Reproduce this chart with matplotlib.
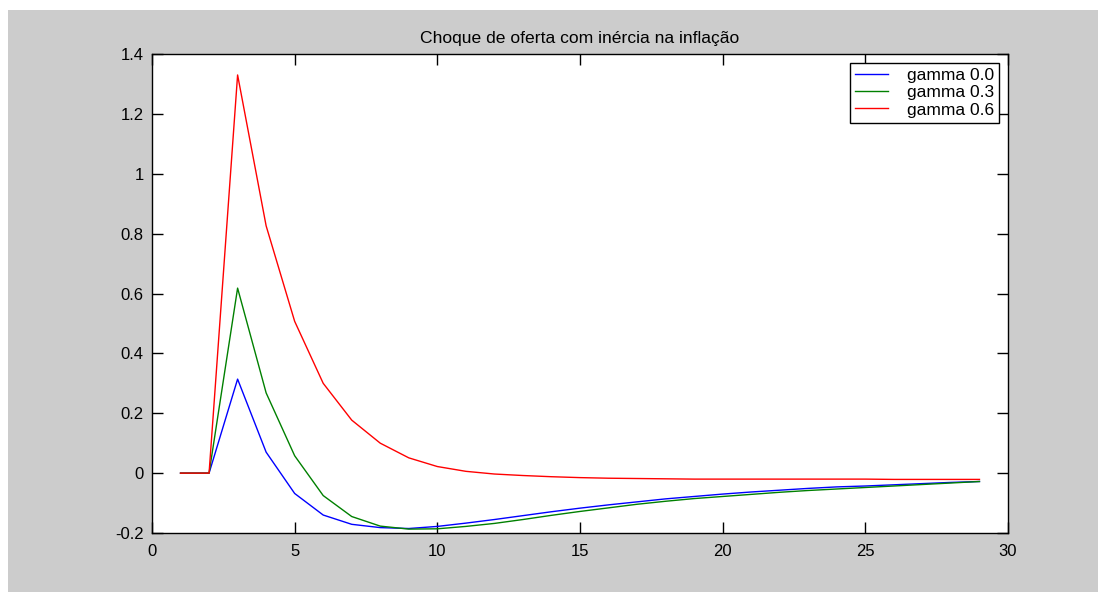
import numpy as np
import matplotlib.pyplot as plt
from matplotlib.patches import Rectangle

# periods
t = list(range(1, 30))

# inflation response for each gamma
gamma_00 = [0, 0, 0.314, 0.070, -0.068, -0.140, -0.171, -0.182, -0.185, -0.178,
            -0.167, -0.155, -0.142, -0.129, -0.117, -0.106, -0.096, -0.086, -0.078, -0.070,
            -0.063, -0.057, -0.051, -0.046, -0.043, -0.039, -0.035, -0.031, -0.028]
gamma_03 = [0, 0, 0.618, 0.268, 0.058, -0.075, -0.145, -0.177, -0.187, -0.186,
            -0.178, -0.168, -0.155, -0.141, -0.128, -0.116, -0.104, -0.094, -0.085, -0.078,
            -0.071, -0.064, -0.058, -0.053, -0.048, -0.043, -0.038, -0.033, -0.028]
gamma_06 = [0, 0, 1.33, 0.826, 0.507, 0.300, 0.177, 0.100, 0.051, 0.022,
            0.006, -0.003, -0.008, -0.012, -0.015, -0.017, -0.018, -0.019, -0.020, -0.020,
            -0.020, -0.020, -0.020, -0.020, -0.020, -0.021, -0.021, -0.021, -0.021]

labels = ['gamma 0.0', 'gamma 0.3', 'gamma 0.6']
colors = ['#0000ff', '#008000', '#ff0000']

plt.rcParams['font.family'] = ['Liberation Sans', 'DejaVu Sans']

fig = plt.figure(figsize=(10.98, 5.92), dpi=100, facecolor='white')
# grey MATLAB-like window background (white strip top and left)
fig.patches.append(Rectangle((8 / 1098, 0), 1, 1 - 10 / 592, transform=fig.transFigure,
                             facecolor='#cccccc', edgecolor='none', zorder=-10))

ax = fig.add_axes([152 / 1098, 59 / 592, 856 / 1098, 479 / 592])
ax.set_facecolor('white')

for y, lab, c in zip([gamma_00, gamma_03, gamma_06], labels, colors):
    ax.plot(t, y, color=c, lw=1.0, label=lab)

ax.set_xlim(0, 30)
ax.set_ylim(-0.2, 1.4)
ax.set_xticks(np.arange(0, 31, 5))
ax.set_yticks(np.arange(-0.2, 1.41, 0.2))
ax.set_yticklabels(['-0.2', '0', '0.2', '0.4', '0.6', '0.8', '1', '1.2', '1.4'])
ax.tick_params(direction='in', length=8, width=1, top=True, right=True,
               labelsize=12, colors='black', pad=6)
ax.tick_params(axis='x', pad=8)
for s in ax.spines.values():
    s.set_color('black')
    s.set_linewidth(1.0)

ax.set_title('Choque de oferta com inércia na inflação', fontsize=12.6, pad=8)

leg = ax.legend(loc='upper right', fontsize=12.5, frameon=True, fancybox=False,
                framealpha=1, edgecolor='black', borderpad=0.3, labelspacing=0.12,
                handlelength=1.9, handletextpad=1.1, borderaxespad=0.5)
leg.get_frame().set_linewidth(1.0)

fig.savefig('out.png', dpi=100, facecolor=fig.get_facecolor())
